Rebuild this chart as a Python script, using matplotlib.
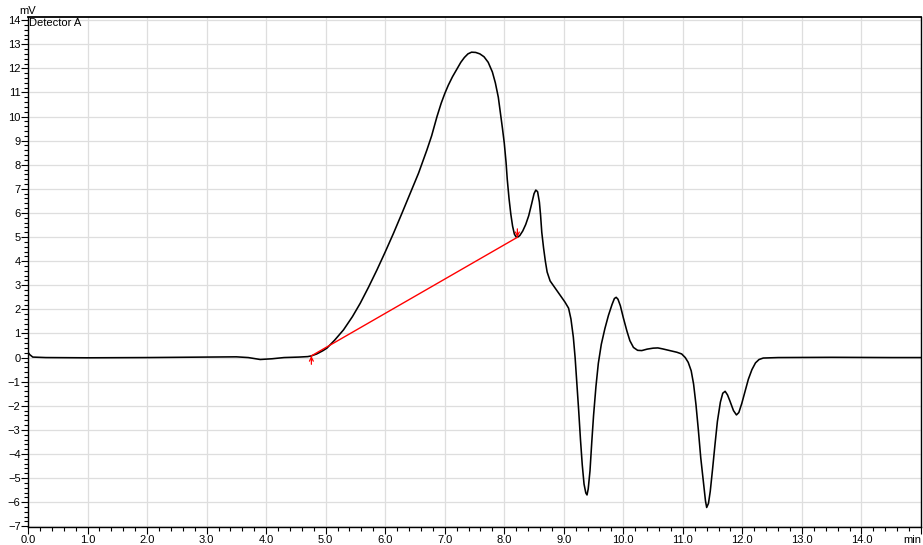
import matplotlib
matplotlib.use('Agg')
import matplotlib.pyplot as plt
from matplotlib.ticker import MultipleLocator

# ---------------------------------------------------------------------------
# Data
# ---------------------------------------------------------------------------
time_min = [
    0.00, 0.03, 0.08, 0.30, 1.00, 2.00, 3.00, 3.50, 3.70, 3.90, 4.10, 4.30,
    4.55, 4.70, 4.76, 4.85, 4.95, 5.02, 5.15, 5.30, 5.45, 5.58, 5.72, 5.86,
    6.00, 6.14, 6.28, 6.42, 6.56, 6.70, 6.78, 6.87, 6.94, 7.00, 7.06, 7.13,
    7.20, 7.27, 7.33, 7.39, 7.45, 7.52, 7.59, 7.66, 7.73, 7.80, 7.85, 7.90,
    7.93, 7.97, 8.00,
    8.03, 8.05, 8.08, 8.11, 8.14, 8.17, 8.20, 8.22, 8.26, 8.31, 8.36, 8.41,
    8.46, 8.50, 8.53, 8.56, 8.59, 8.61, 8.63, 8.66, 8.69, 8.72, 8.77, 8.85,
    8.94, 9.02, 9.08, 9.12, 9.16, 9.19, 9.22, 9.25, 9.28, 9.31, 9.34, 9.37,
    9.39, 9.41, 9.44, 9.47, 9.50, 9.54, 9.58, 9.63, 9.69, 9.75, 9.81, 9.85,
    9.88, 9.91, 9.95, 10.00, 10.06, 10.11, 10.17, 10.24, 10.31, 10.40, 10.50,
    10.58, 10.66, 10.78, 10.90, 10.98, 11.04, 11.09, 11.14, 11.18, 11.22,
    11.26, 11.30, 11.35, 11.38, 11.40, 11.43, 11.46, 11.50, 11.54, 11.58,
    11.63, 11.67, 11.71, 11.75, 11.79, 11.85, 11.90, 11.94, 11.99, 12.05,
    12.10, 12.16, 12.22, 12.28, 12.35, 12.60, 13.50, 14.50, 15.00,
]
signal_mv = [
    0.22, 0.12, 0.02, 0.00, -0.01, 0.00, 0.02, 0.03, 0.00, -0.08, -0.05, 0.00,
    0.02, 0.04, 0.07, 0.15, 0.28, 0.39, 0.72, 1.15, 1.70, 2.25, 2.92, 3.63,
    4.38, 5.16, 5.98, 6.82, 7.65, 8.61, 9.20, 10.00, 10.55, 10.95, 11.30, 11.65,
    11.95, 12.25, 12.45, 12.60, 12.67, 12.66, 12.60, 12.48, 12.25, 11.85, 11.40, 10.80,
    10.25, 9.50, 8.90,
    8.10, 7.40, 6.60, 5.95, 5.45, 5.12, 5.00, 4.99, 5.06, 5.25, 5.52, 5.88,
    6.38, 6.80, 6.95, 6.88, 6.45, 5.90, 5.20, 4.55, 4.00, 3.55, 3.18, 2.90,
    2.58, 2.30, 2.05, 1.60, 0.85, 0.00, -1.10, -2.20, -3.40, -4.45, -5.25, -5.62,
    -5.70, -5.45, -4.70, -3.50, -2.40, -1.20, -0.24, 0.55, 1.20, 1.75, 2.20, 2.45,
    2.50, 2.42, 2.15, 1.65, 1.10, 0.70, 0.42, 0.30, 0.29, 0.35, 0.39,
    0.40, 0.36, 0.29, 0.22, 0.15, 0.00, -0.20, -0.55, -1.10, -1.95,
    -3.00, -4.15, -5.25, -5.95, -6.22, -6.05, -5.55, -4.60, -3.60, -2.65,
    -1.85, -1.48, -1.40, -1.55, -1.80, -2.20, -2.38, -2.28, -1.90, -1.35,
    -0.90, -0.50, -0.22, -0.08, -0.02, 0.00, 0.01, 0.00, 0.00,
]

# integration baseline (peak start / end)
baseline_t = [4.76, 8.22]
baseline_v = [0.07, 4.99]

x_ticks = list(range(0, 16))
x_tick_labels = [f'{t:.1f}' for t in range(0, 15)] + ['']
y_ticks = list(range(-7, 15))

# ---------------------------------------------------------------------------
# Plot
# ---------------------------------------------------------------------------
plt.rcParams['font.family'] = ['Liberation Sans', 'DejaVu Sans']
FONT_TICK = 8

W, H = 923, 545
fig = plt.figure(figsize=(W / 100, H / 100), dpi=100)
L, R, T, B = 28, 921, 17, 527
ax = fig.add_axes([L / W, 1 - B / H, (R - L) / W, (B - T) / H])

ax.plot(time_min, signal_mv, color='black', linewidth=1.15, zorder=3)

# baseline + markers
ax.plot(baseline_t, baseline_v, color='red', linewidth=1.0, zorder=4)
ax.annotate('', xy=(baseline_t[0], baseline_v[0]),
            xytext=(baseline_t[0], baseline_v[0] - 0.35),
            arrowprops=dict(arrowstyle='->', color='red', lw=0.9,
                            shrinkA=0, shrinkB=0, mutation_scale=7), zorder=4)
ax.annotate('', xy=(baseline_t[1], baseline_v[1]),
            xytext=(baseline_t[1], baseline_v[1] + 0.35),
            arrowprops=dict(arrowstyle='->', color='red', lw=0.9,
                            shrinkA=0, shrinkB=0, mutation_scale=7), zorder=4)

ax.set_xlim(0, 15)
ax.set_ylim(-7.03, 14.13)
ax.set_xticks(x_ticks)
ax.set_xticklabels(x_tick_labels)
ax.set_yticks(y_ticks)
ax.xaxis.set_minor_locator(MultipleLocator(0.2))
ax.yaxis.set_minor_locator(MultipleLocator(0.2))

ax.tick_params(which='major', direction='out', length=5, width=0.8,
               labelsize=FONT_TICK, color='black')
ax.tick_params(which='minor', direction='out', length=2.8, width=0.8, color='black')
ax.tick_params(axis='x', pad=0.5)
ax.tick_params(axis='y', pad=0.3)

ax.grid(True, which='major', color='#dedede', linewidth=0.9, zorder=0)
ax.set_axisbelow(True)

for side in ['left', 'bottom', 'right']:
    ax.spines[side].set_linewidth(1.0)
ax.spines['top'].set_linewidth(1.3)

ax.text(-0.001, 1.002, 'mV', transform=ax.transAxes, fontsize=FONT_TICK,
        ha='center', va='bottom')
ax.text(0.001, 0.999, 'Detector A', transform=ax.transAxes, fontsize=FONT_TICK,
        ha='left', va='top')
ax.text(1.0, -0.016, 'min', transform=ax.transAxes, fontsize=FONT_TICK,
        ha='right', va='top')

fig.savefig('out.png', dpi=100)
